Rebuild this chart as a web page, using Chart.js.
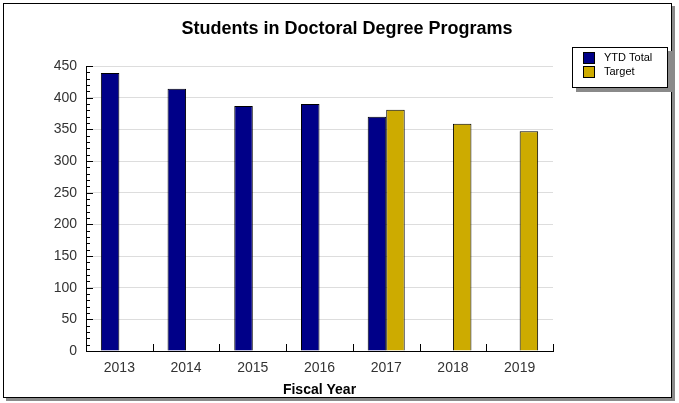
<!DOCTYPE html>
<html>
<head>
<meta charset="utf-8">
<script src="https://cdn.jsdelivr.net/npm/chart.js@4"></script>
<style>
  html, body { margin: 0; padding: 0; background: #fff; }
  #wrap { width: 679px; height: 403px; }
</style>
</head>
<body>
<div id="wrap"><canvas id="myChart" width="679" height="403"></canvas></div>
<script>
var years = ['2013', '2014', '2015', '2016', '2017', '2018', '2019'];
var ytdTotal = [439, 414, 387, 390, 370, null, null];
var target = [null, null, null, null, 381, 359, 347];
var chartTitle = 'Students in Doctoral Degree Programs';

var FONT = '"Liberation Sans", Arial, sans-serif';

// frame, title, tick marks and legend box, drawn by hand like the original image
var decor = {
  id: 'decor',
  beforeDraw: function(chart) {
    var c = chart.ctx;
    c.save();
    c.fillStyle = '#fff';
    c.fillRect(0, 0, chart.width, chart.height);
    c.fillStyle = '#8a8a8a';
    c.fillRect(6, 398, 669, 3);
    c.fillRect(672, 6, 3, 395);
    c.strokeStyle = '#000';
    c.lineWidth = 1;
    c.strokeRect(3.5, 3.5, 668, 394);
    // title is centred on the whole picture, not on the plot
    c.fillStyle = '#000';
    c.font = 'bold 18px ' + FONT;
    c.textAlign = 'center';
    c.textBaseline = 'middle';
    c.fillText(chartTitle, 347, 29);
    c.restore();
  },
  afterDraw: function(chart) {
    var c = chart.ctx;
    var y = chart.scales.y;
    var area = chart.chartArea;
    c.save();
    c.strokeStyle = '#000';
    c.lineWidth = 1;
    c.beginPath();
    // y ticks every 10, major every 50
    for (var v = 0; v <= 450; v += 10) {
      var py = Math.round(y.getPixelForValue(v)) + 0.5;
      var len = v % 50 === 0 ? 7 : 4;
      c.moveTo(area.left, py);
      c.lineTo(area.left + len, py);
    }
    // x ticks at category boundaries
    var step = (area.right - area.left) / years.length;
    for (var i = 1; i <= years.length; i++) {
      var px = Math.round(area.left + step * i) + 0.5;
      c.moveTo(px, area.bottom);
      c.lineTo(px, area.bottom - 7);
    }
    c.stroke();

    // legend
    c.fillStyle = '#8a8a8a';
    c.fillRect(576, 88, 96, 4);
    c.fillRect(668, 51, 4, 41);
    c.fillStyle = '#fff';
    c.fillRect(572, 47, 96, 41);
    c.strokeRect(572.5, 47.5, 95, 40);
    chart.data.datasets.forEach(function(ds, k) {
      var sy = 52 + k * 14;
      c.fillStyle = ds.backgroundColor;
      c.fillRect(583, sy, 11, 11);
      c.strokeRect(583.5, sy + 0.5, 11, 11);
      c.fillStyle = '#000';
      c.font = '11px ' + FONT;
      c.textBaseline = 'middle';
      c.fillText(ds.label, 604, sy + 6);
    });
    c.restore();
  }
};

var ctx = document.getElementById('myChart').getContext('2d');
var chart = new Chart(ctx, {
  type: 'bar',
  data: {
    labels: years,
    datasets: [{
      label: 'YTD Total',
      data: ytdTotal,
      backgroundColor: '#000088',
      borderColor: '#000',
      borderWidth: 1,
      borderSkipped: 'bottom'
    }, {
      label: 'Target',
      data: target,
      backgroundColor: '#cdab00',
      borderColor: '#000',
      borderWidth: 1,
      borderSkipped: 'bottom'
    }]
  },
  options: {
    responsive: false,
    animation: false,
    devicePixelRatio: 1,
    layout: { padding: { left: 10, right: 126, top: 66, bottom: 4 } },
    datasets: { bar: { categoryPercentage: 0.555, barPercentage: 1 } },
    plugins: {
      legend: { display: false },
      tooltip: { enabled: false },
      title: { display: false }
    },
    scales: {
      x: {
        afterFit: function(s) { s.height = 48; },
        grid: { display: false, drawTicks: false },
        border: { color: '#000', width: 1 },
        ticks: { color: '#333', font: { family: FONT, size: 14 }, padding: 9 },
        title: {
          display: true,
          text: 'Fiscal Year',
          color: '#000',
          font: { family: FONT, size: 14, weight: 'bold' },
          padding: { top: 7, bottom: 0 }
        }
      },
      y: {
        afterFit: function(s) { s.width = 76; },
        min: 0,
        max: 450,
        ticks: { stepSize: 50, color: '#333', font: { family: FONT, size: 14 }, padding: 9 },
        grid: { color: '#dddddd', drawTicks: false },
        border: { color: '#000', width: 1 }
      }
    }
  },
  plugins: [decor]
});
</script>
</body>
</html>
